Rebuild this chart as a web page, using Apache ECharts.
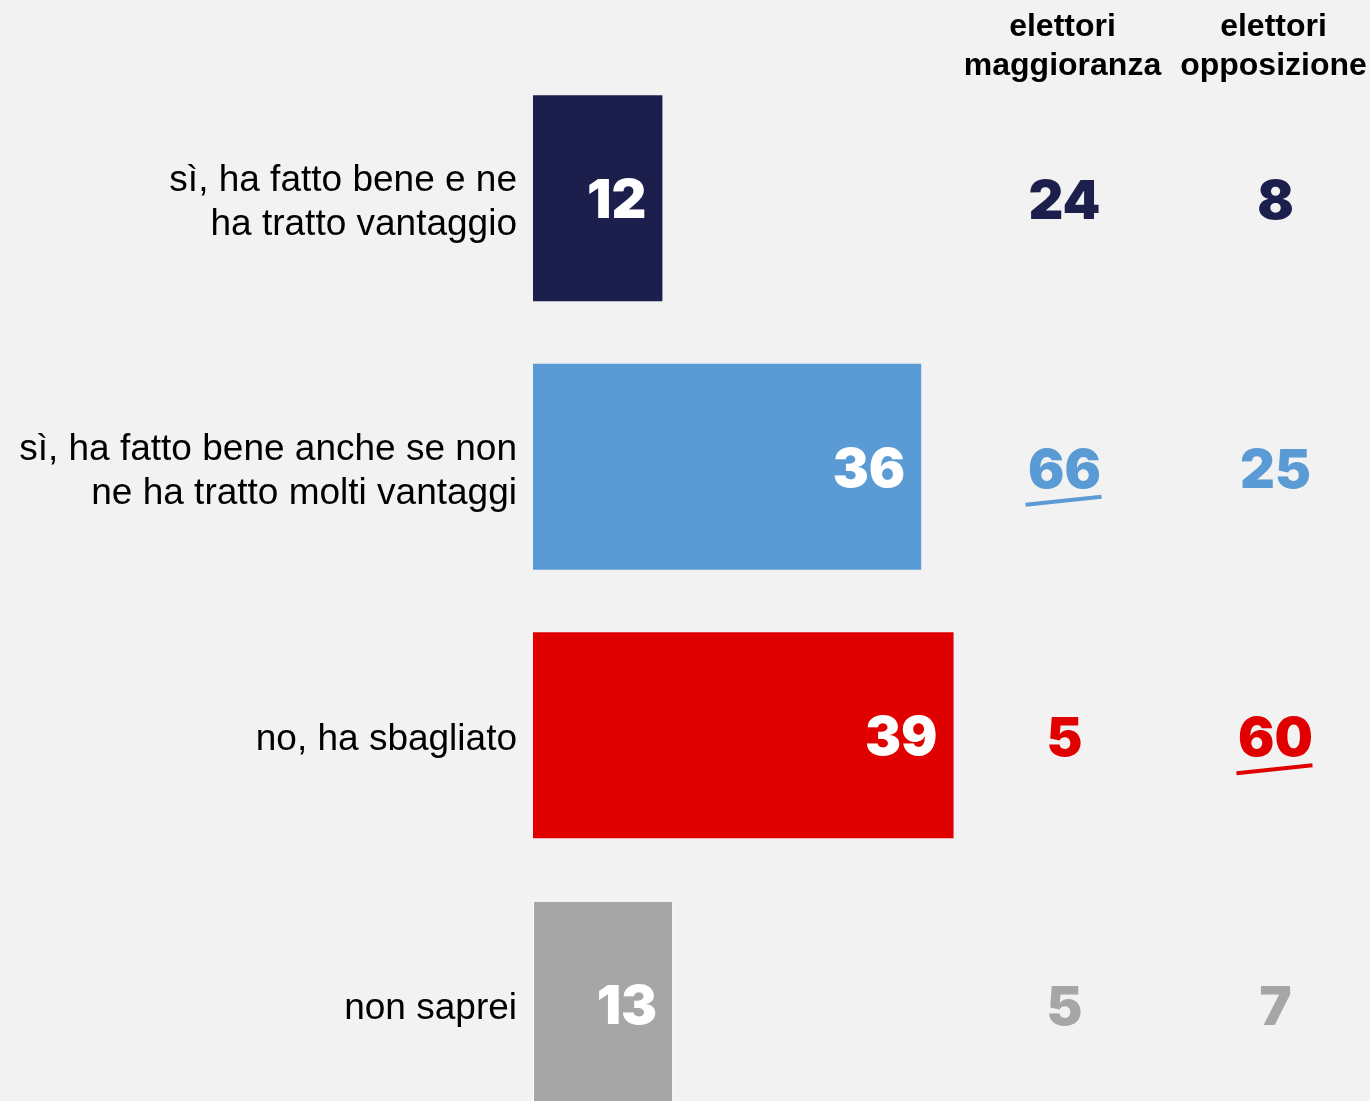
<!DOCTYPE html>
<html>
<head>
<meta charset="utf-8">
<script src="https://cdn.jsdelivr.net/npm/echarts@6/dist/echarts.min.js"></script>
<style>
html, body { margin: 0; padding: 0; background: #f2f2f2; overflow: hidden; }
#chart { width: 1400px; height: 1150px; }
</style>
</head>
<body>
<div id="chart"></div>
<script>
// dati
var categorie = ['sì, ha fatto bene e ne\nha tratto vantaggio', 'sì, ha fatto bene anche se non\nne ha tratto molti vantaggi', 'no, ha sbagliato', 'non saprei'];
var totale = [12, 36, 39, 13];
var maggioranza = [24, 66, 5, 5];
var opposizione = [8, 25, 60, 7];
var gruppi = ['elettori\nmaggioranza', 'elettori\nopposizione'];
var sottolineati = ['1-0', '2-1']; // riga-colonna

var colori = ['#1c1f4c', '#5b9bd5', '#e00000', '#a6a6a6'];
var font = '"Liberation Sans", Arial, sans-serif';
var fontNumeri = 'Inter, "Liberation Sans", sans-serif';

var myChart = echarts.init(document.getElementById('chart'));

var barre = totale.map(function (v, i) {
    var item = {value: v, itemStyle: {color: colori[i]}};
    if (i == 3) {
        item.itemStyle.borderColor = '#ffffff';
        item.itemStyle.borderWidth = 1;
    }
    return item;
});

var laterali = [];
for (var r = 0; r < categorie.length; r++) {
    laterali.push([0, r, maggioranza[r]]);
    laterali.push([1, r, opposizione[r]]);
}

var option = {
    backgroundColor: '#f2f2f2',
    animation: false,
    grid: [
        {left: 533, top: 64, width: 647, height: 1074},
        {left: 957, top: 64, width: 422, height: 1074},
        // solo per le etichette delle categorie, un po' più in basso
        {left: 533, top: 69, width: 10, height: 1074}
    ],
    xAxis: [
        {type: 'value', gridIndex: 0, min: 0, max: 60, show: false},
        {
            type: 'category', gridIndex: 1, position: 'top', data: gruppi,
            axisLine: {show: false}, axisTick: {show: false}, splitLine: {show: false},
            axisLabel: {
                margin: -22, color: '#000', fontFamily: font, fontWeight: 'bold',
                fontSize: 32, lineHeight: 39, interval: 0
            }
        },
        {type: 'value', gridIndex: 2, show: false}
    ],
    yAxis: [
        {type: 'category', gridIndex: 0, inverse: true, data: categorie, show: false},
        {type: 'category', gridIndex: 1, inverse: true, data: categorie, show: false},
        {
            type: 'category', gridIndex: 2, inverse: true, data: categorie,
            axisLine: {show: false}, axisTick: {show: false}, splitLine: {show: false},
            axisLabel: {
                margin: 16, color: '#000', fontFamily: font, fontSize: 37,
                lineHeight: 44, align: 'right'
            }
        }
    ],
    series: [
        {
            type: 'bar',
            xAxisIndex: 0,
            yAxisIndex: 0,
            barWidth: 206,
            data: barre,
            label: {
                show: true,
                position: 'insideRight',
                distance: 16,
                offset: [0, 4],
                color: '#fff',
                fontFamily: fontNumeri,
                fontWeight: 900,
                fontSize: 54
            }
        },
        {
            type: 'custom',
            xAxisIndex: 1,
            yAxisIndex: 1,
            data: laterali,
            renderItem: function (params, api) {
                var col = api.value(0);
                var row = api.value(1);
                var p = api.coord([col, row]);
                var c = colori[row];
                var children = [{
                    type: 'text',
                    style: {
                        text: String(api.value(2)),
                        x: p[0] + 2, y: p[1] + 5,
                        align: 'center', verticalAlign: 'middle',
                        font: '900 54px ' + fontNumeri,
                        fill: c
                    }
                }];
                if (sottolineati.indexOf(row + '-' + col) >= 0) {
                    children.push({
                        type: 'line',
                        shape: {x1: p[0] - 37, y1: p[1] + 38, x2: p[0] + 39, y2: p[1] + 30},
                        style: {stroke: c, lineWidth: 4}
                    });
                }
                return {type: 'group', children: children};
            }
        }
    ]
};

myChart.setOption(option);
</script>
</body>
</html>
